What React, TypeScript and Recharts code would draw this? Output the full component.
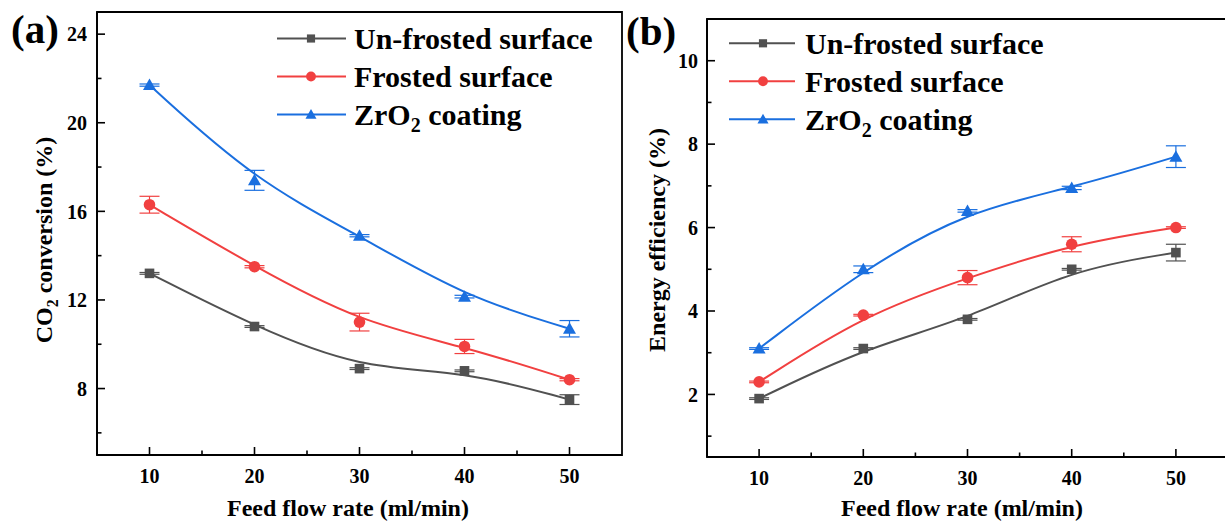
import React from 'react';
import { LineChart, Line, XAxis, YAxis, ErrorBar, ReferenceArea, Legend, Customized } from 'recharts';

const flowRates = [10, 20, 30, 40, 50];

const convUnfrosted = [13.2, 10.8, 8.9, 8.8, 7.5];
const convUnfrostedErr = [0.04, 0.04, 0.04, 0.04, 0.22];
const convFrosted = [16.3, 13.5, 11.0, 9.9, 8.4];
const convFrostedErr = [0.38, 0.05, 0.4, 0.32, 0.05];
const convZrO2 = [21.7, 17.4, 14.9, 12.15, 10.7];
const convZrO2Err = [0.05, 0.45, 0.05, 0.06, 0.37];

const effUnfrosted = [1.9, 3.1, 3.8, 5.0, 5.4];
const effUnfrostedErr = [0.02, 0.02, 0.02, 0.02, 0.2];
const effFrosted = [2.3, 3.9, 4.8, 5.6, 6.0];
const effFrostedErr = [0.02, 0.02, 0.17, 0.18, 0.02];
const effZrO2 = [3.1, 5.0, 6.4, 6.95, 7.7];
const effZrO2Err = [0.02, 0.08, 0.03, 0.04, 0.26];

const xTicks = [10, 15, 20, 25, 30, 35, 40, 45, 50];
const xMajor = [10, 20, 30, 40, 50];
const convTicks = [6, 8, 10, 12, 14, 16, 18, 20, 22, 24];
const convMajor = [8, 12, 16, 20, 24];
const effTicks = [1, 2, 3, 4, 5, 6, 7, 8, 9, 10];
const effMajor = [2, 4, 6, 8, 10];

const seriesNames = ['Un-frosted surface', 'Frosted surface', 'ZrO2 coating'];
const seriesColors = ['#515151', '#F14040', '#1A6FDF'];
const seriesMarkers = ['square', 'circle', 'triangle'];

const FONT = "'Liberation Serif', 'Times New Roman', serif";

const convData = flowRates.map((x, i) => ({
  x,
  u: convUnfrosted[i], uErr: convUnfrostedErr[i],
  f: convFrosted[i], fErr: convFrostedErr[i],
  z: convZrO2[i], zErr: convZrO2Err[i],
}));
const effData = flowRates.map((x, i) => ({
  x,
  u: effUnfrosted[i], uErr: effUnfrostedErr[i],
  f: effFrosted[i], fErr: effFrostedErr[i],
  z: effZrO2[i], zErr: effZrO2Err[i],
}));

function Marker({ kind, cx, cy, color, s = 1 }: any) {
  if (cx == null || cy == null) return <g />;
  if (kind === 'square') {
    return <rect x={cx - 4.8 * s} y={cy - 4.8 * s} width={9.6 * s} height={9.6 * s} fill={color} />;
  }
  if (kind === 'circle') {
    return <circle cx={cx} cy={cy} r={5.8 * s} fill={color} />;
  }
  return (
    <polygon
      points={`${cx},${cy - 6.5 * s} ${cx - 6.5 * s},${cy + 5 * s} ${cx + 6.5 * s},${cy + 5 * s}`}
      fill={color}
    />
  );
}

const makeDot = (idx: number) => (p: any) => (
  <Marker key={`dot-${idx}-${p.index}`} kind={seriesMarkers[idx]} cx={p.cx} cy={p.cy} color={seriesColors[idx]} />
);

const makeYTick = (major: number[], gap: number) => (p: any) => {
  const { x, y, payload } = p;
  const isMajor = major.includes(payload.value);
  return (
    <g>
      <line x1={x} x2={x + (isMajor ? 8 : 4.5)} y1={y} y2={y} stroke="#000" strokeWidth={1.6} />
      {isMajor && (
        <text x={x - gap} y={y} dy="0.36em" textAnchor="end" fontFamily={FONT} fontWeight="bold" fontSize={20} fill="#000">
          {payload.value}
        </text>
      )}
    </g>
  );
};

const makeXTick = (major: number[]) => (p: any) => {
  const { x, y, payload } = p;
  const isMajor = major.includes(payload.value);
  return (
    <g>
      <line x1={x} x2={x} y1={y} y2={y - (isMajor ? 8 : 4.5)} stroke="#000" strokeWidth={1.6} />
      {isMajor && (
        <text x={x} y={y + 28} textAnchor="middle" fontFamily={FONT} fontWeight="bold" fontSize={20} fill="#000">
          {payload.value}
        </text>
      )}
    </g>
  );
};

const seriesLabel = (name: string) => {
  if (name.startsWith('ZrO2')) {
    return [
      <tspan key="a">ZrO</tspan>,
      <tspan key="b" fontSize={20} dy={7}>2</tspan>,
      <tspan key="c" dy={-7}>{name.slice(4)}</tspan>,
    ];
  }
  return name;
};

const makeLegend = (lx1: number, lx2: number, mx: number, tx: number, y0: number, w: number) => () => (
  <svg width={w} height={524} style={{ overflow: 'visible' }}>
    {seriesNames.map((n, i) => {
      const y = y0 + 38 * i;
      return (
        <g key={n}>
          <line x1={lx1} x2={lx2} y1={y} y2={y} stroke={seriesColors[i]} strokeWidth={2} />
          <Marker kind={seriesMarkers[i]} cx={mx} cy={y} color={seriesColors[i]} s={0.85} />
          <text x={tx} y={y + 10.5} fontFamily={FONT} fontWeight="bold" fontSize={30} fill="#000">
            {seriesLabel(n)}
          </text>
        </g>
      );
    })}
  </svg>
);

const keys = ['u', 'f', 'z'];

function renderErrorLayers() {
  return keys.map((k, i) => (
    <Line
      key={`err-${k}`}
      type="linear"
      dataKey={k}
      stroke="none"
      dot={false}
      activeDot={false}
      legendType="none"
      isAnimationActive={false}
    >
      <ErrorBar dataKey={`${k}Err`} width={10} strokeWidth={1.2} stroke={seriesColors[i]} direction="y" />
    </Line>
  ));
}

function renderSeries() {
  return keys.map((k, i) => (
    <Line
      key={k}
      type="basis"
      dataKey={k}
      stroke={seriesColors[i]}
      strokeWidth={2}
      dot={makeDot(i)}
      activeDot={false}
      isAnimationActive={false}
    />
  ));
}

const TitlesA = () => (
  <g>
    <text x={11} y={43} fontFamily={FONT} fontWeight="bold" fontSize={41} fill="#000">(a)</text>
    <text x={52} y={240} transform="rotate(-90, 52, 240)" textAnchor="middle" fontFamily={FONT} fontWeight="bold" fontSize={24} fill="#000">
      <tspan>CO</tspan>
      <tspan fontSize={16} dy={6}>2</tspan>
      <tspan dy={-6}> conversion (%)</tspan>
    </text>
    <text x={348} y={516} textAnchor="middle" fontFamily={FONT} fontWeight="bold" fontSize={24} fill="#000">Feed flow rate (ml/min)</text>
  </g>
);

const TitlesB = () => (
  <g>
    <text x={16} y={45} fontFamily={FONT} fontWeight="bold" fontSize={41} fill="#000">(b)</text>
    <text x={55} y={240} transform="rotate(-90, 55, 240)" textAnchor="middle" fontFamily={FONT} fontWeight="bold" fontSize={24} fill="#000">
      Energy efficiency (%)
    </text>
    <text x={352} y={516} textAnchor="middle" fontFamily={FONT} fontWeight="bold" fontSize={24} fill="#000">Feed flow rate (ml/min)</text>
  </g>
);

export default function App() {
  return (
    <div style={{ position: 'absolute', left: 0, top: 0, width: 1225, height: 524, overflow: 'hidden', background: '#fff' }}>
      <div style={{ position: 'absolute', left: 0, top: 0 }}>
        <LineChart width={640} height={524} data={convData} margin={{ top: 12, right: 18, bottom: 0, left: 0 }}>
          <XAxis
            type="number"
            dataKey="x"
            domain={[5, 55]}
            ticks={xTicks}
            interval={0}
            allowDataOverflow
            height={69}
            tickSize={0}
            tickMargin={0}
            tickLine={false}
            axisLine={{ stroke: '#000', strokeWidth: 1.8 }}
            tick={makeXTick(xMajor)}
          />
          <YAxis
            type="number"
            domain={[5, 25]}
            ticks={convTicks}
            interval={0}
            allowDataOverflow
            width={97}
            tickSize={0}
            tickMargin={0}
            tickLine={false}
            axisLine={{ stroke: '#000', strokeWidth: 1.8 }}
            tick={makeYTick(convMajor, 10)}
          />
          <ReferenceArea x1={5} x2={55} y1={5} y2={25} fill="none" stroke="#000" strokeWidth={1.8} />
          {renderErrorLayers()}
          {renderSeries()}
          <Legend
            layout="vertical"
            align="center"
            verticalAlign="middle"
            wrapperStyle={{ left: 0, top: 0, width: 640, height: 524, pointerEvents: 'none' }}
            content={makeLegend(277, 346, 311, 354, 38.5, 640)}
          />
          <Customized component={TitlesA} />
        </LineChart>
      </div>
      <div style={{ position: 'absolute', left: 610, top: 0 }}>
        <LineChart width={620} height={524} data={effData} margin={{ top: 19, right: 2, bottom: 0, left: 0 }}>
          <XAxis
            type="number"
            dataKey="x"
            domain={[5, 55]}
            ticks={xTicks}
            interval={0}
            allowDataOverflow
            height={67}
            tickSize={0}
            tickMargin={0}
            tickLine={false}
            axisLine={{ stroke: '#000', strokeWidth: 1.8 }}
            tick={makeXTick(xMajor)}
          />
          <YAxis
            type="number"
            domain={[0.5, 11]}
            ticks={effTicks}
            interval={0}
            allowDataOverflow
            width={97}
            tickSize={0}
            tickMargin={0}
            tickLine={false}
            axisLine={{ stroke: '#000', strokeWidth: 1.8 }}
            tick={makeYTick(effMajor, 9)}
          />
          <ReferenceArea x1={5} x2={55} y1={0.5} y2={11} fill="none" stroke="#000" strokeWidth={1.8} />
          {renderErrorLayers()}
          {renderSeries()}
          <Legend
            layout="vertical"
            align="center"
            verticalAlign="middle"
            wrapperStyle={{ left: 0, top: 0, width: 620, height: 524, pointerEvents: 'none' }}
            content={makeLegend(119, 185, 153, 195, 43.3, 620)}
          />
          <Customized component={TitlesB} />
        </LineChart>
      </div>
    </div>
  );
}
